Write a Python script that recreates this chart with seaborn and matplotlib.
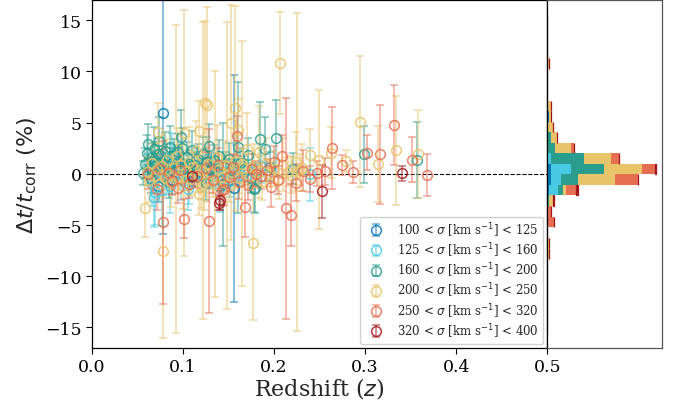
import numpy as np
import pandas as pd
import matplotlib
matplotlib.use("Agg")
import matplotlib.pyplot as plt
import seaborn as sns

# Velocity-dispersion bins (legend order) and their colours
GROUPS = ["100-125", "125-160", "160-200", "200-250", "250-320", "320-400"]
LABELS = [
    r"100 < $\sigma$ [km s$^{-1}$] < 125",
    r"125 < $\sigma$ [km s$^{-1}$] < 160",
    r"160 < $\sigma$ [km s$^{-1}$] < 200",
    r"200 < $\sigma$ [km s$^{-1}$] < 250",
    r"250 < $\sigma$ [km s$^{-1}$] < 320",
    r"320 < $\sigma$ [km s$^{-1}$] < 400",
]
COLORS = ["#0077B6", "#48CAE4", "#2A9D8F", "#E9C46A", "#E76F51", "#A4161A"]

# Scatter points: redshift, delta t / t_corr (%), 1-sigma error (%)
db_z = [0.078, 0.156, 0.066, 0.088, 0.112, 0.131, 0.072, 0.096]
db_dt = [5.9, -1.4, 0.3, -0.6, -0.3, 0.4, -1.2, 0.7]
db_err = [11.8, 11.1, 1.2, 1.4, 1.0, 1.6, 1.5, 1.1]

lb_z = [0.062, 0.066, 0.069, 0.072, 0.075, 0.079, 0.083, 0.086, 0.090, 0.094,
        0.098, 0.103, 0.107, 0.112, 0.117, 0.121, 0.126, 0.131, 0.136, 0.141,
        0.147, 0.152, 0.158, 0.164, 0.171, 0.179, 0.186, 0.239, 0.068, 0.088,
        0.077, 0.105]
lb_dt = [0.4, -0.9, -1.8, 1.3, 0.2, -0.3, 0.7, -1.2, 1.1, 0.0,
         -0.6, 0.5, -1.0, 0.9, 0.1, -0.4, 1.5, -0.2, 0.6, -1.3,
         0.3, -0.7, 1.0, -0.1, 0.4, -0.5, 0.8, -0.05, -2.3, 1.8,
         -1.6, -1.5]
lb_err = [1.5, 2.2, 3.2, 1.4, 1.1, 1.8, 1.3, 2.6, 1.7, 1.2,
          2.0, 1.0, 1.9, 1.6, 0.9, 1.4, 2.1, 1.3, 1.0, 2.4,
          1.2, 1.6, 1.8, 1.1, 1.5, 1.3, 1.7, 2.6, 2.9, 2.2,
          3.5, 2.0]

tl_z = [0.056, 0.058, 0.060, 0.062, 0.064, 0.066, 0.068, 0.070, 0.072, 0.074,
        0.076, 0.078, 0.080, 0.082, 0.084, 0.086, 0.088, 0.090, 0.092, 0.094,
        0.096, 0.099, 0.101, 0.104, 0.107, 0.110, 0.113, 0.116, 0.119, 0.122,
        0.125, 0.128, 0.131, 0.134, 0.137, 0.140, 0.144, 0.147, 0.150, 0.153,
        0.160, 0.163, 0.167, 0.171, 0.175, 0.178, 0.179, 0.185, 0.190, 0.195,
        0.202, 0.221, 0.299, 0.357, 0.065, 0.085, 0.105, 0.125, 0.098, 0.069]
tl_dt = [0.1, 1.0, 2.0, 2.9, 0.6, 1.6, 2.4, 0.9, 1.9, 3.2,
         1.2, 0.4, 2.2, 1.4, 0.8, 2.6, 1.1, 1.8, 0.5, 2.1,
         1.3, 2.5, 0.7, 1.6, 1.0, 2.3, 0.9, 1.5, 0.3, 1.9,
         1.2, 2.7, 0.6, 1.4, 0.2, 1.7, -1.0, 0.9, 1.5, 0.4,
         2.6, 1.1, 0.5, 1.8, -0.4, -1.5, -1.35, 3.4, 2.45, 0.7,
         3.5, 0.5, 1.9, 1.35, -0.5, -0.8, -0.3, -0.9, 3.6, 1.3]
tl_err = [1.2, 1.5, 1.8, 2.0, 1.1, 1.4, 2.2, 1.3, 1.6, 2.4,
          1.2, 1.0, 1.9, 1.5, 1.2, 2.1, 1.4, 1.6, 1.0, 1.8,
          1.3, 2.0, 1.1, 1.5, 1.3, 1.9, 1.2, 1.4, 1.1, 1.7,
          1.3, 2.2, 1.0, 1.4, 1.2, 1.6, 6.0, 1.2, 1.5, 1.1,
          6.4, 1.4, 1.2, 1.7, 1.5, 2.2, 2.5, 3.6, 3.1, 1.4,
          3.7, 1.5, 2.8, 3.7, 1.4, 1.6, 1.3, 1.7, 2.6, 1.8]

yl_z = [0.206, 0.126, 0.124, 0.073, 0.101, 0.118, 0.153, 0.157, 0.160, 0.078,
        0.177, 0.058, 0.117, 0.120, 0.294, 0.249, 0.231, 0.240, 0.263, 0.279,
        0.314, 0.334, 0.358, 0.092, 0.122, 0.148, 0.225, 0.165, 0.135, 0.183,
        0.060, 0.063, 0.066, 0.069, 0.071, 0.074, 0.077, 0.080, 0.082, 0.085,
        0.087, 0.090, 0.093, 0.095, 0.098, 0.100, 0.103, 0.106, 0.109, 0.111,
        0.114, 0.116, 0.119, 0.123, 0.127, 0.130, 0.133, 0.137, 0.140, 0.143,
        0.146, 0.150, 0.154, 0.158, 0.162, 0.166, 0.170, 0.174, 0.178, 0.182,
        0.187, 0.191, 0.196, 0.200, 0.205, 0.210, 0.215, 0.219, 0.224, 0.228]
yl_dt = [10.8, 6.75, 6.9, 4.1, 4.0, 4.15, 5.0, 6.4, 4.3, -7.5,
         -6.75, -3.35, -2.0, -1.3, 5.1, 1.4, 0.6, 1.8, 2.05, 1.25,
         1.0, 2.3, 1.9, -0.5, 0.3, 0.8, 0.2, 1.0, -1.0, 2.1,
         0.2, -0.6, 1.1, -0.2, 0.5, -1.0, 0.8, -0.4, 1.4, 0.0,
         -0.8, 0.6, 1.7, -0.3, 0.9, -1.2, 0.3, 1.2, -0.5, 0.7,
         2.2, -0.1, 0.4, -0.9, 1.0, 0.1, -0.6, 1.6, 0.5, -0.3,
         0.9, -1.1, 0.2, 1.3, -0.4, 0.6, 2.4, -0.2, 0.8, 0.3,
         -0.7, 1.1, 0.0, 0.5, -0.5, 0.9, 0.2, -0.1, 1.2, 0.4]
yl_err = [5.0, 9.5, 8.0, 2.8, 12.0, 3.0, 11.5, 10.0, 3.0, 8.5,
          7.5, 2.8, 2.0, 2.0, 6.4, 6.8, 2.3, 2.6, 2.5, 1.1,
          3.7, 5.3, 4.3, 15.0, 14.5, 14.0, 15.5, 12.0, 11.0, 4.5,
          1.4, 2.1, 1.8, 1.3, 2.5, 1.6, 3.1, 1.2, 2.0, 1.5,
          2.4, 1.3, 2.8, 1.7, 1.9, 2.2, 1.1, 3.4, 1.6, 1.4,
          3.0, 1.8, 1.2, 2.6, 1.5, 2.0, 1.7, 3.2, 1.3, 1.9,
          2.3, 1.6, 1.4, 2.7, 1.5, 1.8, 3.5, 1.2, 2.1, 1.6,
          1.9, 2.4, 1.3, 1.7, 2.0, 2.6, 1.4, 1.8, 2.9, 1.5]

or_z = [0.062, 0.071, 0.078, 0.101, 0.129, 0.085, 0.094, 0.107, 0.143, 0.145,
        0.159, 0.168, 0.171, 0.180, 0.200, 0.204, 0.209, 0.213, 0.219, 0.224,
        0.232, 0.240, 0.247, 0.256, 0.264, 0.275, 0.287, 0.302, 0.316, 0.332,
        0.352, 0.368, 0.075, 0.088, 0.097, 0.115, 0.125, 0.133, 0.138, 0.150,
        0.155, 0.162, 0.176, 0.186, 0.192, 0.197]
or_dt = [0.0, -1.5, -4.75, -4.4, -4.6, 0.1, -1.35, -1.0, -1.57, -1.5,
         3.7, -3.2, -1.1, 0.0, 1.2, -0.6, 1.7, -3.35, -4.0, -0.86,
         0.3, -0.5, 0.05, 0.24, 2.5, 0.85, 0.17, 2.06, 1.9, 4.8,
         1.4, -0.1, 0.5, -0.7, 0.4, -0.2, 0.6, -0.6, 0.9, -0.3,
         0.7, -0.8, 0.5, -0.2, 0.4, -1.3]
or_err = [1.5, 2.0, 8.0, 1.9, 9.0, 1.2, 1.5, 1.4, 1.6, 1.5,
          2.0, 3.0, 1.5, 1.3, 1.5, 1.4, 2.1, 10.8, 3.0, 1.8,
          2.0, 1.3, 1.2, 1.3, 4.0, 1.0, 1.1, 1.7, 4.8, 3.9,
          2.2, 2.05, 1.2, 1.4, 1.3, 1.2, 1.5, 1.3, 1.6, 1.4,
          1.2, 1.7, 1.4, 1.3, 1.1, 1.9]

rd_z = [0.139, 0.141, 0.253, 0.340, 0.110]
rd_dt = [-2.8, -2.6, -1.7, 0.05, -0.2]
rd_err = [0.7, 0.9, 2.6, 0.7, 1.0]

# Side histogram: bin centres (30 bins from -15.5 to 15.4) and counts per group
hist_centers = [-7.775, -6.745, -4.685, -3.655, -2.625, -1.595, -0.565, 0.465,
                1.495, 2.525, 3.555, 4.585, 5.615, 6.645, 10.765]
cnt_db = [0, 0, 0, 0, 0, 1, 3, 3, 0, 0, 0, 0, 1, 0, 0]
cnt_lb = [0, 0, 0, 0, 0, 7, 7, 15, 3, 0, 0, 0, 0, 0, 0]
cnt_tl = [0, 0, 0, 0, 1, 4, 13, 25, 25, 6, 3, 0, 0, 0, 0]
cnt_yl = [1, 1, 0, 0, 3, 2, 28, 28, 20, 12, 4, 4, 2, 3, 1]
cnt_or = [0, 0, 5, 3, 0, 8, 17, 10, 6, 2, 0, 0, 0, 0, 0]
cnt_rd = [0, 0, 0, 0, 1, 1, 0, 1, 0, 0, 0, 0, 0, 0, 0]

points = [
    (db_z, db_dt, db_err),
    (lb_z, lb_dt, lb_err),
    (tl_z, tl_dt, tl_err),
    (yl_z, yl_dt, yl_err),
    (or_z, or_dt, or_err),
    (rd_z, rd_dt, rd_err),
]
counts = [cnt_db, cnt_lb, cnt_tl, cnt_yl, cnt_or, cnt_rd]

# Style
sns.set_style("ticks")
plt.rcParams["font.family"] = "serif"
plt.rcParams["font.serif"] = ["DejaVu Serif"]
plt.rcParams["xtick.direction"] = "out"
plt.rcParams["ytick.direction"] = "out"

fig = plt.figure(figsize=(6.84, 4.10), dpi=100)
ax = fig.add_axes([0.1345, 0.149, 0.6655, 0.849])
axh = fig.add_axes([0.800, 0.149, 0.1675, 0.849], sharey=ax)

ax.axhline(0, color="k", ls="--", lw=0.8, zorder=1)

for (z, dt, err), color, label in zip(points, COLORS, LABELS):
    line, caps, bars = ax.errorbar(z, dt, yerr=err, fmt="o", ms=7, mfc="none",
                                   mec=color, mew=1.1, color=color, ecolor=color,
                                   elinewidth=1.1, capsize=3, label=label)
    line.set_alpha(0.85)
    for c in caps:
        c.set_alpha(0.6)
    for b in bars:
        b.set_alpha(0.6)

ax.set_xlim(0, 0.5)
ax.set_ylim(-17, 17)
ax.set_xticks([0.0, 0.1, 0.2, 0.3, 0.4, 0.5])
ax.set_yticks([-15, -10, -5, 0, 5, 10, 15])
ax.tick_params(labelsize=12.5, length=4, width=0.8, colors="k")
ax.set_xlabel(r"Redshift ($z$)", fontsize=16, labelpad=0)
ax.set_ylabel(r"$\Delta t/t_{\rm corr}$ (%)", fontsize=16, family="DejaVu Sans")
for s in ax.spines.values():
    s.set_color("k")
    s.set_linewidth(0.9)

ax.legend(loc="lower right", fontsize=8.5, frameon=True, framealpha=0.9,
          edgecolor="#cccccc", labelspacing=0.15, borderpad=0.35,
          borderaxespad=0.35)

# Stacked side histogram
hist_df = pd.DataFrame({
    "dt": np.tile(hist_centers, len(GROUPS)),
    "count": np.concatenate(counts).astype(float),
    "group": np.repeat(GROUPS, len(hist_centers)),
})
sns.histplot(data=hist_df, y="dt", weights="count", hue="group",
             hue_order=GROUPS[::-1], palette=dict(zip(GROUPS, COLORS)),
             multiple="stack", binwidth=1.03, binrange=(-15.5, 15.4),
             alpha=1, linewidth=0, legend=False, ax=axh)

# thin outline on the outermost layer, as in the original
red = matplotlib.colors.to_rgba(COLORS[-1])
for cont in axh.containers:
    if np.allclose(cont.patches[0].get_facecolor(), red):
        for p in cont.patches:
            p.set_edgecolor(COLORS[-1])
            p.set_linewidth(0.9)

axh.set_xlabel("")
axh.set_ylabel("")
axh.set_xticks([])
axh.tick_params(left=False, labelleft=False, bottom=False)
for name, s in axh.spines.items():
    s.set_color("#555555" if name != "left" else "k")
    s.set_linewidth(0.9)

fig.savefig("out.png", dpi=100)
